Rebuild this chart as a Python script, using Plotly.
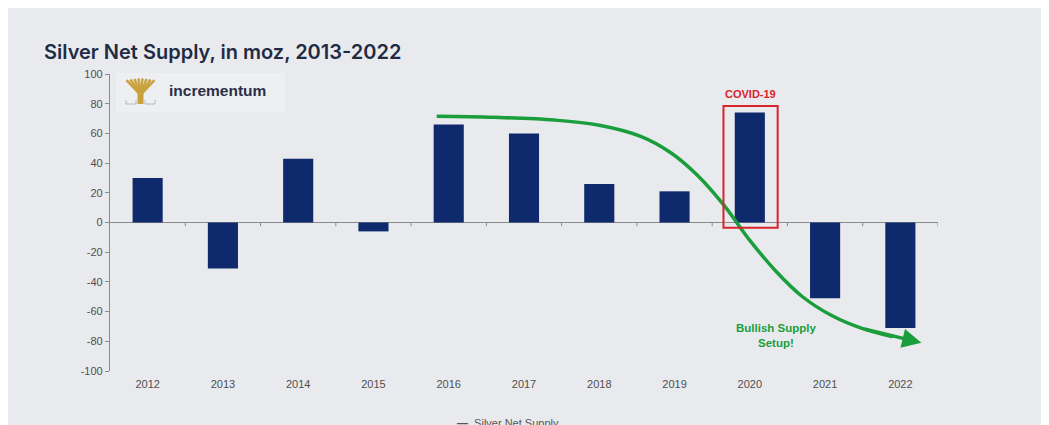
import plotly.graph_objects as go

years = [2012, 2013, 2014, 2015, 2016, 2017, 2018, 2019, 2020, 2021, 2022]
net_supply = [30, -31, 43, -6, 66, 60, 26, 21, 74, -51, -71]
y_ticks = [100, 80, 60, 40, 20, 0, -20, -40, -60, -80, -100]
y_tick_labels = ["100", "80", "60", "40", "20", "0", "-20", "-40", "-60", "-80", "-100"]

# hand-drawn "bullish supply" arrow path (year, moz)
trend_x = [2015.84, 2016.6, 2017.4, 2018.0, 2018.55, 2018.95, 2019.3, 2019.65, 2020.0, 2020.35, 2020.7, 2021.1, 2021.5, 2021.9]
trend_y = [71.5, 70.8, 69.0, 65.5, 58.0, 47.0, 32.0, 12.0, -12.0, -33.0, -50.0, -63.0, -71.5, -77.0]

NAVY = "#0e2a6c"
GREEN = "#1a9e3c"
RED = "#d9232b"
GOLD = "#c9a23f"
GREY_BG = "#e9eaee"
AXIS = "#8a8a8a"
TICK_FONT = dict(family="Liberation Sans, Arial", size=11, color="#4f4f4f")

fig = go.Figure()
fig.add_trace(go.Bar(x=years, y=net_supply, width=0.4, marker_color=NAVY,
                     marker_line_width=0, name="Silver Net Supply"))
fig.add_trace(go.Scatter(x=trend_x, y=trend_y, mode="lines", line_shape="spline",
                         line=dict(color=GREEN, width=3.5), hoverinfo="skip"))

# arrow head at end of trend
fig.add_annotation(x=2022.28, y=-81, ax=trend_x[-2], ay=trend_y[-2], xref="x", yref="y",
                   axref="x", ayref="y", text="", showarrow=True, arrowhead=2, standoff=0,
                   startstandoff=0, arrowsize=1.1, arrowwidth=3.5, arrowcolor=GREEN)

# helpers for reference pixel -> paper coords
def px(v):
    return (v - 110) / 828


def py(v):
    return (371 - v) / 297


shapes = []
# zero line with category ticks
shapes.append(dict(type="line", xref="x", yref="y", x0=years[0] - 0.5, x1=years[-1] + 0.5,
                   y0=0, y1=0, line=dict(color=AXIS, width=1.2), layer="below"))
for yr in years:
    shapes.append(dict(type="line", xref="x", yref="y", x0=yr + 0.5, x1=yr + 0.5,
                       y0=0, y1=-2.5, line=dict(color=AXIS, width=1)))
# COVID box
shapes.append(dict(type="rect", xref="x", yref="y", x0=2019.65, x1=2020.37, y0=-3.5, y1=78.5,
                   line=dict(color=RED, width=2)))
# logo box + tree icon
shapes.append(dict(type="rect", xref="paper", yref="paper", x0=px(116), x1=px(285),
                   y0=py(112), y1=py(73), fillcolor="#edeff1", line_width=0, layer="below"))
cx = 140.5
for dx in [-14, -10, -6, -2, 2, 6, 10, 14]:
    shapes.append(dict(type="line", xref="paper", yref="paper", x0=px(cx), x1=px(cx + dx),
                       y0=py(95), y1=py(78 + abs(dx) * 0.15), line=dict(color=GOLD, width=2.5)))
shapes.append(dict(type="rect", xref="paper", yref="paper", x0=px(cx - 3), x1=px(cx + 3),
                   y0=py(104), y1=py(92), fillcolor=GOLD, line_width=0))
for x0, x1 in [(126, 136), (145, 155)]:
    shapes.append(dict(type="path", xref="paper", yref="paper",
                       path=f"M {px(x0)},{py(100)} L {px(x0)},{py(104)} L {px(x1)},{py(104)} L {px(x1)},{py(100)}",
                       line=dict(color="#b8b8b8", width=1)))

fig.add_annotation(xref="paper", yref="paper", x=px(167), y=py(91),
                   text="<b>incrementum</b>", showarrow=False, xanchor="left", yanchor="middle",
                   font=dict(family="Liberation Sans, Arial", size=15.5, color="#2b3048"))
fig.add_annotation(x=2020.01, y=81, text="<b>COVID-19</b>", showarrow=False, yanchor="bottom",
                   font=dict(family="Liberation Sans, Arial", size=11, color=RED))
fig.add_annotation(x=2020.35, y=-76, text="<b>Bullish Supply<br>Setup!</b>", showarrow=False,
                   font=dict(family="Liberation Sans, Arial", size=11.5, color=GREEN))
# legend, cut off by the bottom of the card
fig.add_annotation(xref="paper", yref="paper", x=px(455), y=py(415),
                   text="<b>—</b>  Silver Net Supply", showarrow=False, xanchor="left", yanchor="top",
                   font=dict(family="Liberation Sans, Arial", size=11, color="#555555"))

fig.update_layout(
    width=1049, height=425,
    margin=dict(l=102, r=119, t=66, b=62),
    paper_bgcolor=GREY_BG, plot_bgcolor=GREY_BG,
    showlegend=False,
    shapes=shapes,
    title=dict(text="Silver Net Supply, in moz, 2013-2022", xref="container", yref="container",
               x=36 / 1049, xanchor="left", y=1 - 44 / 425, yanchor="middle",
               font=dict(family="Inter, Noto Sans", size=20, color="#1f2b45", weight=600)),
)
fig.update_xaxes(range=[years[0] - 0.5, years[-1] + 0.5], tickvals=years, showgrid=False,
                 zeroline=False, showline=False, ticks="", tickfont=TICK_FONT, ticklabelstandoff=5)
fig.update_yaxes(range=[-100, 100], tickvals=y_ticks, ticktext=y_tick_labels, showgrid=False,
                 zeroline=False, showline=True, linecolor=AXIS, linewidth=1.2, ticks="outside",
                 ticklen=4, tickcolor=AXIS, tickfont=TICK_FONT)

fig.write_html("out.html")
